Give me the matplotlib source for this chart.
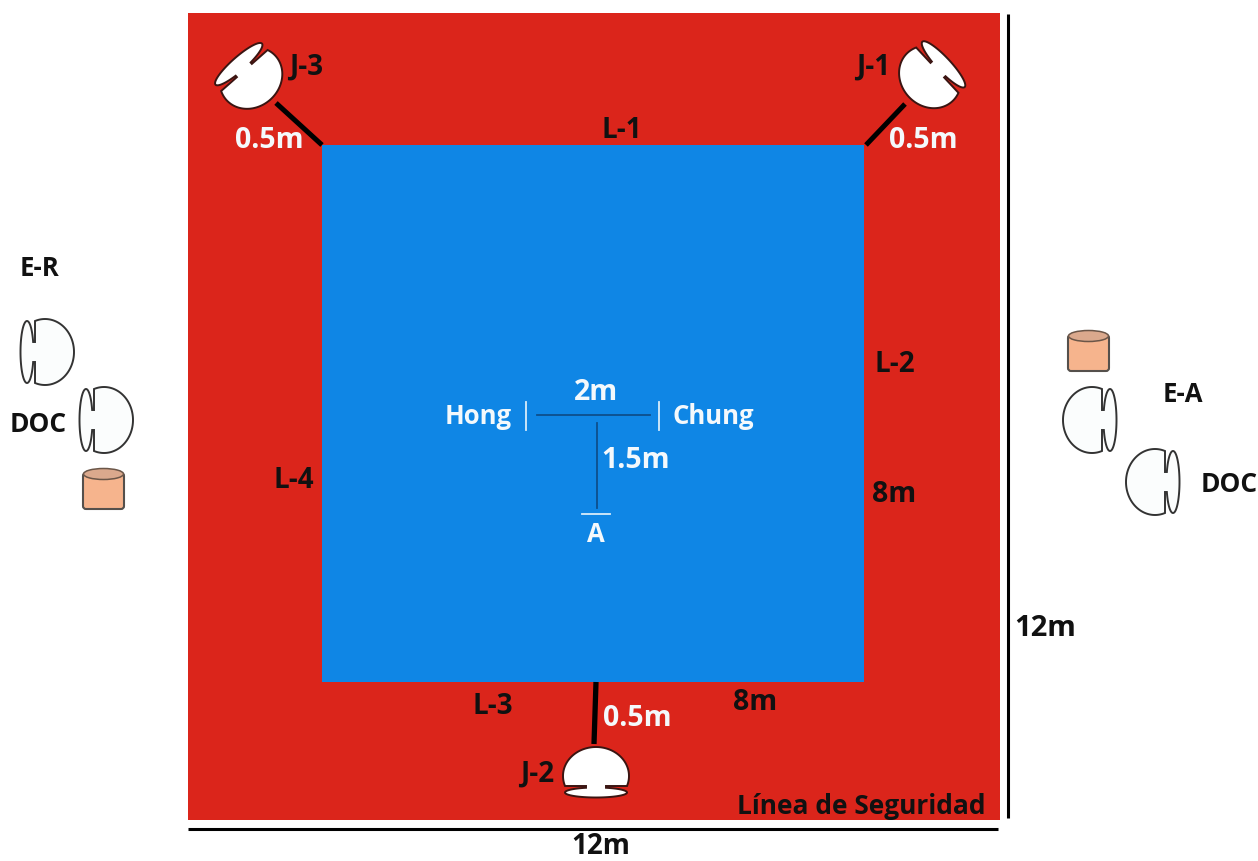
import numpy as np
import matplotlib.pyplot as plt
from matplotlib.patches import Rectangle, Polygon, Ellipse, FancyBboxPatch

# todo en pixeles de la imagen original
W, H = 1258, 861
plt.rcParams['font.family'] = ['Open Sans', 'DejaVu Sans']

ROJO = '#db251b'
AZUL = '#0f86e5'
NARANJA = '#f6b48d'

# zonas: x0, y0, x1, y1
zona_seguridad = [188, 13, 1000, 820]
zona_combate = [322, 145, 864, 682]

# lineas negras gruesas (0.5m y cotas de 12m)
lineas_x = [[276, 322], [866, 905], [596, 594], [1008, 1008], [188, 998]]
lineas_y = [[103, 145], [145, 104], [682, 744], [14, 818], [829, 829]]
lineas_lw = [3.6, 3.6, 3.8, 2.2, 2.2]

# lineas azul oscuro del centro
centro_x = [[537, 650], [597, 597]]
centro_y = [[415, 415], [423, 508]]
# marcas claras: Hong, Chung, A
marcas_x = [[526, 526], [659, 659], [582, 610]]
marcas_y = [[402, 430], [402, 430], [514, 514]]

# sillas: centro de la cupula y direccion hacia donde mira
silla_cx = [251, 930, 596, 45, 104, 1092, 1155]
silla_cy = [78, 77, 776, 352, 420, 420, 482]
silla_dx = [38, -45, 0, 1, 1, -1, -1]
silla_dy = [43, 42, -1, 0, 0, 0, 0]
silla_rb = [7, 7, 5, 6.5, 6.5, 6.5, 6.5]
silla_relleno = ['white', 'white', 'white', '#fbfdfd', '#fbfdfd', '#fbfdfd', '#fbfdfd']
silla_borde = ['#3a1512', '#3a1512', '#3a1512', '#333333', '#333333', '#333333', '#333333']

# cubos
cubo_x = [83, 1068]
cubo_y = [468, 330]
cubo_w = 41
cubo_h = 41

# textos
negros = ['J-3', 'J-1', 'L-1', 'L-2', 'L-3', 'L-4', 'J-2', '8m', '8m', 'Línea de Seguridad',
          '12m', '12m', 'E-R', 'DOC', 'E-A', 'DOC']
negros_x = [306, 873, 622, 895, 493, 294, 537, 894, 755, 861, 1045, 601, 40, 38, 1183, 1229]
negros_y = [67, 67, 130, 365, 706, 481, 774, 495, 702, 807, 628, 846, 269, 425, 394, 484]
negros_size = [20, 20, 20, 20, 20, 20, 20, 20.5, 20.5, 19, 21, 20, 18.5, 19, 18.5, 19]
blancos = ['0.5m', '0.5m', '0.5m', 'Hong', 'Chung', '2m', '1.5m', 'A']
blancos_x = [269, 923, 637, 478, 713, 596, 636, 596]
blancos_y = [140, 140, 718, 417, 417, 393, 460, 535]
blancos_size = [20.5, 20.5, 20.5, 18.5, 18.5, 20.5, 20.5, 18.5]


def silla(ax, cx, cy, dx, dy, rb, relleno, borde):
    # cupula + cuello + respaldo, en coordenadas locales
    a, b, corte = 33, 29, -10
    ini = np.arcsin(corte / b)
    t = np.linspace(ini, np.pi - ini, 80)
    px = list(a * np.cos(t))
    py = list(b * np.sin(t))
    cuello = 10
    ra, ry = 31, -10 - 1.5 - rb
    t0 = np.arccos(cuello / ra)
    t2 = np.linspace(np.pi - t0, 2 * np.pi + t0, 80)
    px += [-cuello] + list(ra * np.cos(t2)) + [cuello]
    py += [corte] + list(ry + rb * np.sin(t2)) + [corte]
    px, py = np.array(px), np.array(py)
    n = np.hypot(dx, dy)
    ux, uy = dx / n, dy / n
    # eje local y -> direccion, eje local x -> perpendicular
    X = cx + px * (-uy) + py * ux
    Y = cy + px * ux + py * uy
    ax.add_patch(Polygon(np.c_[X, Y], closed=True, fc=relleno, ec=borde, lw=1.4, zorder=4))


def cubo(ax, x, y, w, h):
    ax.add_patch(FancyBboxPatch((x + 3, y + 8), w - 6, h - 11, boxstyle='round,pad=3', fc=NARANJA,
                                ec='#55504c', lw=1.5, zorder=3))
    ax.add_patch(Ellipse((x + w / 2, y + 6), w - 1, 11, fc='#dba98d', ec='#6b5648', lw=1.1, zorder=4))


fig = plt.figure(figsize=(W / 100, H / 100), dpi=100)
ax = fig.add_axes([0, 0, 1, 1])
ax.set_xlim(0, W)
ax.set_ylim(H, 0)
ax.axis('off')

x0, y0, x1, y1 = zona_seguridad
ax.add_patch(Rectangle((x0, y0), x1 - x0, y1 - y0, fc=ROJO, ec='none', zorder=1))
x0, y0, x1, y1 = zona_combate
ax.add_patch(Rectangle((x0, y0), x1 - x0, y1 - y0, fc=AZUL, ec='none', zorder=2))

for lx, ly, lw in zip(lineas_x, lineas_y, lineas_lw):
    ax.plot(lx, ly, color='black', lw=lw, solid_capstyle='butt', zorder=3)
for lx, ly in zip(centro_x, centro_y):
    ax.plot(lx, ly, color='#0d4f8c', lw=1.3, zorder=3)
for lx, ly in zip(marcas_x, marcas_y):
    ax.plot(lx, ly, color='#d8ecfa', lw=1.3, zorder=3)

for i in range(len(silla_cx)):
    silla(ax, silla_cx[i], silla_cy[i], silla_dx[i], silla_dy[i], silla_rb[i], silla_relleno[i], silla_borde[i])
for x, y in zip(cubo_x, cubo_y):
    cubo(ax, x, y, cubo_w, cubo_h)

for s, x, y, fs in zip(negros, negros_x, negros_y, negros_size):
    ax.text(x, y, s, color='#111111', fontsize=fs, fontweight='bold', ha='center', va='center', zorder=5)
for s, x, y, fs in zip(blancos, blancos_x, blancos_y, blancos_size):
    ax.text(x, y, s, color='#f4f9fc', fontsize=fs, fontweight='bold', ha='center', va='center', zorder=5)

fig.savefig('out.png', dpi=100)
